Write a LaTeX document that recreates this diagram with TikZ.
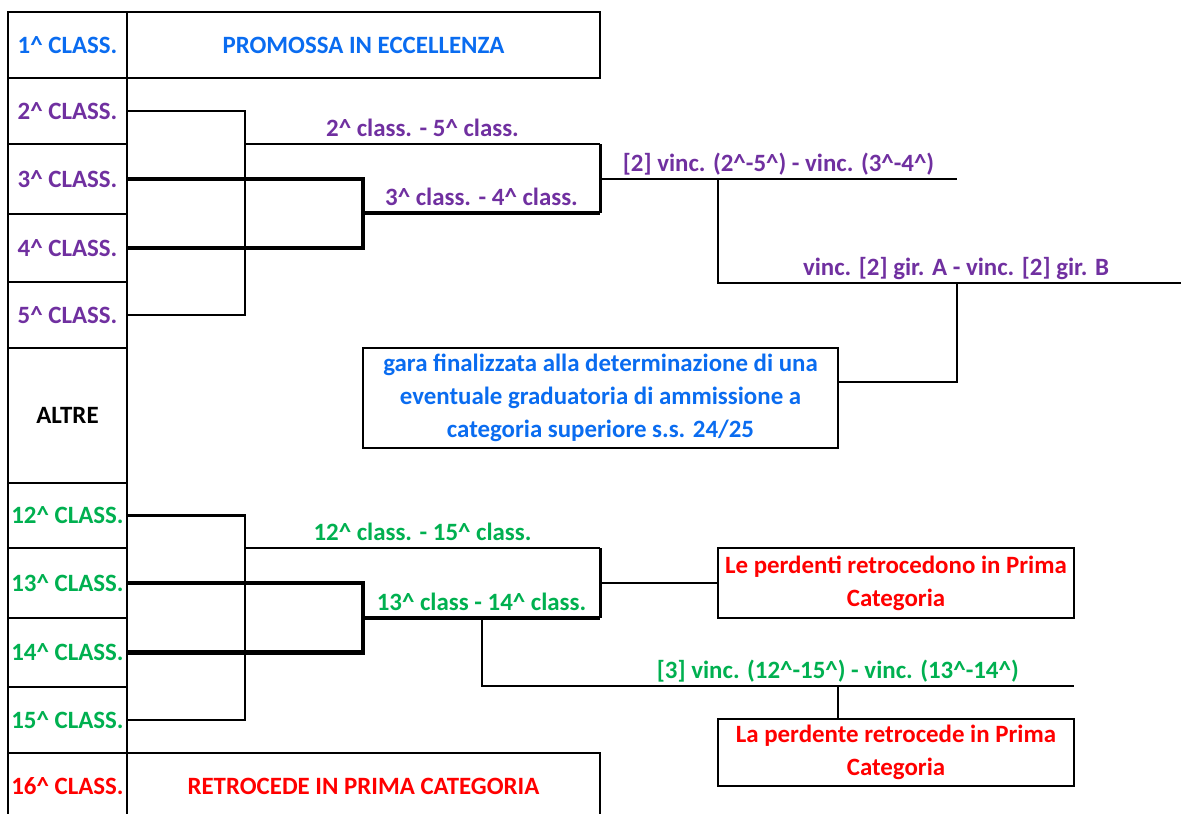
\documentclass[tikz,border=0pt]{standalone}
\usepackage{fontspec}
\setmainfont{Carlito}
\definecolor{cblue}{HTML}{0A6CF0}
\definecolor{cpurple}{HTML}{7030A0}
\definecolor{cgreen}{HTML}{00B050}
\definecolor{cred}{HTML}{FF0000}
\newcommand{\ca}{\textasciicircum}
\begin{document}
\begin{tikzpicture}[x=1pt,y=-1pt,
  font=\bfseries\fontsize{24.9}{33}\selectfont,
  thinln/.style={line width=2.6pt},
  thickln/.style={line width=4.4pt},
  cell/.style={draw, line width=2.6pt, minimum width=119pt, inner sep=0pt},
  wide/.style={draw, line width=2.6pt, minimum width=473pt, minimum height=66pt, inner sep=0pt},
  note/.style={draw, line width=2.6pt, inner sep=0pt, align=center},
  lab/.style={anchor=base, yshift=8pt, inner sep=0pt}]
\useasboundingbox (0,0) rectangle (1181,814);
% left column
\node[cell, minimum height=66pt, text=cblue] (c1) at (67.5,45) {1\ca{} CLASS.};
\node[cell, minimum height=66pt, text=cpurple] (c2) at (67.5,111) {2\ca{} CLASS.};
\node[cell, minimum height=70pt, text=cpurple] (c3) at (67.5,179) {3\ca{} CLASS.};
\node[cell, minimum height=68pt, text=cpurple] (c4) at (67.5,248) {4\ca{} CLASS.};
\node[cell, minimum height=66pt, text=cpurple] (c5) at (67.5,315) {5\ca{} CLASS.};
\node[cell, minimum height=135pt] (altre) at (67.5,415.5) {ALTRE};
\node[cell, minimum height=65pt, text=cgreen] (c12) at (67.5,515.5) {12\ca{} CLASS.};
\node[cell, minimum height=70pt, text=cgreen] (c13) at (67.5,583) {13\ca{} CLASS.};
\node[cell, minimum height=69pt, text=cgreen] (c14) at (67.5,652.5) {14\ca{} CLASS.};
\node[cell, minimum height=66pt, text=cgreen] (c15) at (67.5,720) {15\ca{} CLASS.};
\node[cell, minimum height=66pt, text=cred] (c16) at (67.5,786) {16\ca{} CLASS.};
% wide boxes
\node[wide, text=cblue] (b1) at (363.5,45) {PROMOSSA IN ECCELLENZA};
\node[wide, text=cred] (b16) at (363.5,786) {RETROCEDE IN PRIMA CATEGORIA};
% notes
\node[note, text=cblue, minimum width=475pt, minimum height=100pt] (gara) at (600.5,398)
  {gara finalizzata alla determinazione di una\\eventuale graduatoria di ammissione a\\categoria superiore s.s. 24/25};
\node[note, text=cred, minimum width=356pt, minimum height=70pt] (lose1) at (896,583)
  {Le perdenti retrocedono in Prima\\Categoria};
\node[note, text=cred, minimum width=356pt, minimum height=67pt] (lose2) at (896,752.5)
  {La perdente retrocede in Prima\\Categoria};
% coordinates (top)
\coordinate (m25) at (245,144);
\coordinate (q1) at (600,144);
\coordinate (m34) at (363,213);
\coordinate (q2) at (600,213);
\coordinate (q12) at (600,179);
\coordinate (e1) at (957,179);
\coordinate (s1) at (718,179);
\coordinate (s2) at (718,283);
\coordinate (e2) at (1181,283);
\coordinate (g1) at (957,283);
\coordinate (g2) at (957,382);
% top brackets
\draw[thinln] (c2.east) -| (m25) |- (c5.east);
\draw[thinln] (m25) -- node[lab, text=cpurple] {2\ca{} class. - 5\ca{} class.} (q1);
\draw[thickln] (c3.east) -| (m34) |- (c4.east);
\draw[thickln] (m34) -- node[lab, text=cpurple] {3\ca{} class. - 4\ca{} class.} (q2);
\draw[line width=3pt] (q1) -- (q2);
\draw[thinln] (q12) -- node[lab, text=cpurple] {[2] vinc. (2\ca-5\ca) - vinc. (3\ca-4\ca)} (e1);
\draw[thinln] (s1) -- (s2) -- node[lab, pos=0.514, text=cpurple] {vinc. [2] gir. A - vinc. [2] gir. B} (e2);
\draw[thinln] (g1) -- (g2) -- (g2 -| gara.east);
% coordinates (bottom)
\coordinate (n25) at (245,548);
\coordinate (p1) at (600,548);
\coordinate (n34) at (363,618);
\coordinate (p2) at (600,618);
\coordinate (p12) at (600,583);
\coordinate (t1) at (482,618);
\coordinate (t2) at (482,686);
\coordinate (t3) at (1074,686);
\coordinate (h1) at (838,686);
% bottom brackets
\draw[thinln] (c12.east) -| (n25) |- (c15.east);
\draw[thinln] (n25) -- node[lab, text=cgreen] {12\ca{} class. - 15\ca{} class.} (p1);
\draw[thickln] (c13.east) -| (n34) |- (c14.east);
\draw[thickln] (n34) -- node[lab, text=cgreen] {13\ca{} class - 14\ca{} class.} (p2);
\draw[line width=3pt] (p1) -- (p2);
\draw[thinln] (p12) -- (lose1.west);
\draw[thinln] (t1) -- (t2) -- node[lab, pos=0.601, text=cgreen] {[3] vinc. (12\ca-15\ca) - vinc. (13\ca-14\ca)} (t3);
\draw[thinln] (h1) -- (h1 |- lose2.north);
\end{tikzpicture}
\end{document}
